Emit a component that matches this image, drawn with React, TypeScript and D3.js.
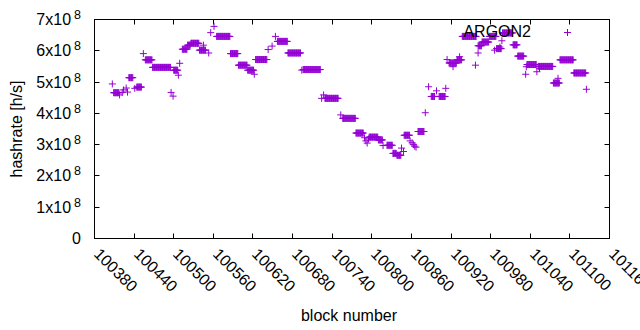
import React from "react";
import * as d3 from "d3";

// Runs of consecutive blocks that share (about) the same hashrate
const runStart = [100409, 100432, 100444, 100457, 100468, 100500, 100513, 100521, 100526, 100539, 100565, 100586, 100598, 100612, 100624, 100657, 100673, 100696, 100729, 100756, 100776, 100796, 100810, 100823, 100832, 100838, 100849, 100870, 100890, 100902, 100917, 100929, 100937, 100961, 100967, 100978, 100989, 100998, 101014, 101021, 101035, 101052, 101075, 101085, 101106];
const runEnd = [100417, 100438, 100451, 100467, 100495, 100506, 100520, 100525, 100538, 100548, 100585, 100597, 100611, 100621, 100641, 100672, 100692, 100722, 100749, 100775, 100787, 100809, 100816, 100831, 100837, 100844, 100857, 100879, 100895, 100911, 100928, 100936, 100958, 100966, 100977, 100988, 100996, 101013, 101020, 101030, 101049, 101074, 101084, 101105, 101124];
const runRate = [4.66e8, 5.14e8, 4.84e8, 5.71e8, 5.47e8, 5.38e8, 6.05e8, 6.18e8, 6.24e8, 6.02e8, 6.46e8, 5.91e8, 5.54e8, 5.38e8, 5.72e8, 6.30e8, 5.93e8, 5.40e8, 4.48e8, 3.84e8, 3.37e8, 3.24e8, 3.15e8, 2.98e8, 2.72e8, 2.66e8, 3.30e8, 3.42e8, 4.54e8, 4.54e8, 5.61e8, 5.71e8, 6.46e8, 6.16e8, 6.28e8, 6.46e8, 6.07e8, 6.57e8, 6.19e8, 5.83e8, 5.56e8, 5.50e8, 4.97e8, 5.71e8, 5.29e8];

// Isolated blocks
const pointBlock = [100407, 100418, 100422, 100424, 100428, 100430, 100441, 100454, 100496, 100499, 100507, 100509, 100545, 100553, 100556, 100561, 100622, 100643, 100649, 100654, 100694, 100724, 100727, 100753, 100789, 100791, 100793, 100795, 100817, 100845, 100848, 100858, 100861, 100863, 100865, 100867, 100881, 100886, 100898, 100912, 100914, 100923, 100933, 100957, 100961, 100986, 100994, 100997, 101033, 101034, 101050, 101054, 101082, 101125];
const pointRate = [4.94e8, 4.59e8, 4.67e8, 4.75e8, 4.81e8, 4.68e8, 4.80e8, 5.91e8, 4.67e8, 4.55e8, 5.22e8, 5.60e8, 6.18e8, 5.93e8, 6.58e8, 6.78e8, 5.25e8, 6.04e8, 6.15e8, 6.46e8, 5.38e8, 4.48e8, 4.59e8, 3.95e8, 3.22e8, 3.12e8, 3.05e8, 3.18e8, 2.97e8, 2.89e8, 2.78e8, 3.12e8, 3.06e8, 3.00e8, 2.95e8, 2.92e8, 4.02e8, 4.85e8, 4.72e8, 4.80e8, 5.72e8, 5.49e8, 5.81e8, 5.54e8, 5.93e8, 6.02e8, 6.12e8, 6.32e8, 5.25e8, 5.49e8, 5.33e8, 5.44e8, 5.12e8, 4.77e8];

const xTicks = [100380, 100440, 100500, 100560, 100620, 100680, 100740, 100800, 100860, 100920, 100980, 101040, 101100, 101160];
const yTicks = [0, 1, 2, 3, 4, 5, 6, 7];

const seriesName = "ARGON2";
const xTitle = "block number";
const yTitle = "hashrate [h/s]";

const COLOR = "#9400d3";
const FONT = "'Liberation Sans', Arial, sans-serif";

export default function App() {
  const left = 94.5, right = 609.5, top = 19.5, bottom = 238.5;
  const x = d3.scaleLinear().domain([100380, 101160]).range([left, right]);
  const y = d3.scaleLinear().domain([0, 7e8]).range([bottom, top]);

  const pts: [number, number][] = [];
  runStart.forEach((s, i) => {
    d3.range(s, runEnd[i] + 1).forEach((b) => pts.push([b, runRate[i]]));
  });
  pointBlock.forEach((b, i) => pts.push([b, pointRate[i]]));

  const arm = 3.5;
  const plus = (cx: number, cy: number) =>
    `M${cx - arm},${cy}H${cx + arm}M${cx},${cy - arm}V${cy + arm}`;
  const pathD = pts.map(([b, h]) => plus(x(b), y(h))).join("");

  const tickLen = 5;

  return (
    <svg width={640} height={330} style={{ position: "absolute", left: 0, top: 0, background: "#fff" }} fontFamily={FONT}>
      <rect x={0} y={0} width={640} height={330} fill="#fff" />
      {/* y ticks */}
      {yTicks.map((v) => {
        const yy = Math.round(y(v * 1e8) - 0.5) + 0.5;
        return (
          <g key={"y" + v}>
            {v > 0 && v < 7 && (
              <>
                <line x1={left} x2={left + tickLen} y1={yy} y2={yy} stroke="#000" />
                <line x1={right} x2={right - tickLen} y1={yy} y2={yy} stroke="#000" />
              </>
            )}
            <text x={81} y={yy + 5.7} textAnchor="end" fontSize={16} fill="#000">
              {v === 0 ? (
                "0"
              ) : (
                <>
                  <tspan>{v}x10</tspan>
                  <tspan dx={3} dy={-6.5} fontSize={12.5}>8</tspan>
                </>
              )}
            </text>
          </g>
        );
      })}
      {/* x ticks */}
      {xTicks.map((t) => {
        const xx = Math.round(x(t) - 0.5) + 0.5;
        return (
          <g key={"x" + t}>
            {t > 100380 && t < 101160 && (
              <>
                <line x1={xx} x2={xx} y1={bottom} y2={bottom - tickLen} stroke="#000" />
                <line x1={xx} x2={xx} y1={top} y2={top + tickLen} stroke="#000" />
              </>
            )}
            <text transform={`translate(${xx - 1.5},255) rotate(45)`} fontSize={16} fill="#000">
              {t}
            </text>
          </g>
        );
      })}
      <rect x={left} y={top} width={right - left} height={bottom - top} fill="none" stroke="#000" />
      {/* data */}
      <path d={pathD} stroke={COLOR} strokeWidth={1} fill="none" />
      {/* legend */}
      <text x={531} y={37} textAnchor="end" fontSize={16} fill="#000">{seriesName}</text>
      <path d={plus(567.5, 32.5)} stroke={COLOR} strokeWidth={1} fill="none" />
      {/* axis titles */}
      <text x={349} y={321} textAnchor="middle" fontSize={16} fill="#000">{xTitle}</text>
      <text transform="translate(22,129) rotate(-90)" textAnchor="middle" fontSize={16} fill="#000">{yTitle}</text>
    </svg>
  );
}
